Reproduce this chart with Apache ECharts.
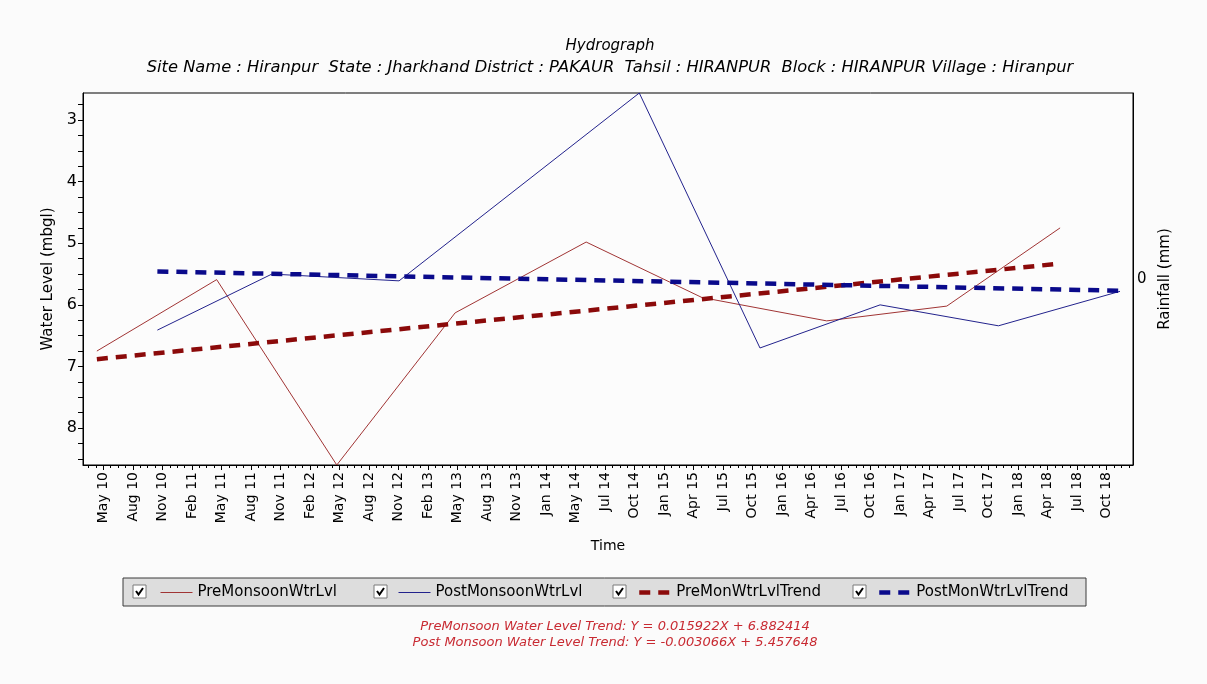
<!DOCTYPE html>
<html>
<head>
<meta charset="utf-8">
<script src="https://cdn.jsdelivr.net/npm/echarts@6/dist/echarts.min.js"></script>
<style>
  html, body { margin: 0; padding: 0; background: #fbfbfb; }
  #chart { width: 1207px; height: 684px; }
</style>
</head>
<body>
<div id="chart"></div>
<script>
// Labelled dates along the time axis (one axis unit per label)
const timeLabels = ['May 10', 'Aug 10', 'Nov 10', 'Feb 11', 'May 11', 'Aug 11', 'Nov 11', 'Feb 12',
  'May 12', 'Aug 12', 'Nov 12', 'Feb 13', 'May 13', 'Aug 13', 'Nov 13', 'Jan 14', 'May 14', 'Jul 14',
  'Oct 14', 'Jan 15', 'Apr 15', 'Jul 15', 'Oct 15', 'Jan 16', 'Apr 16', 'Jul 16', 'Oct 16', 'Jan 17',
  'Apr 17', 'Jul 17', 'Oct 17', 'Jan 18', 'Apr 18', 'Jul 18', 'Oct 18'];

// Pre-monsoon water levels (mbgl) and their positions on the time axis
const preTime = [-0.22, 3.84, 7.91, 11.92, 16.36, 20.28, 24.51, 28.58, 32.42];
const preLevel = [6.75, 5.59, 8.60, 6.13, 4.98, 5.88, 6.26, 6.02, 4.75];

// Post-monsoon water levels (mbgl)
const postTime = [1.83, 5.71, 10.02, 18.16, 22.25, 26.32, 30.33, 34.45];
const postLevel = [6.41, 5.50, 5.61, 2.56, 6.70, 6.00, 6.34, 5.78];

// Fitted trend lines (end points)
const preTrendTime = [-0.22, 32.42];
const preTrendLevel = [6.882, 5.33];
const postTrendTime = [1.83, 34.45];
const postTrendLevel = [5.458, 5.77];

const levelTicks = [3, 4, 5, 6, 7, 8];
const rainfallTicks = [0];

const seriesNames = ['PreMonsoonWtrLvl', 'PostMonsoonWtrLvl', 'PreMonWtrLvlTrend', 'PostMonWtrLvlTrend'];
const trendText = [
  'PreMonsoon Water Level Trend: Y = 0.015922X + 6.882414',
  'Post Monsoon Water Level Trend: Y = -0.003066X + 5.457648'
];

const FONT = 'DejaVu Sans';
const X_MIN = -0.69, X_MAX = 34.89;

const pairs = (xs, ys) => xs.map((x, i) => [x, ys[i]]);
const majorX = timeLabels.map((_, i) => i);
const minorX = [];
for (let v = -0.5; v <= 34.75 + 1e-9; v += 0.25) minorX.push(+v.toFixed(2));
const minorY = [];
for (let v = 2.75; v <= 8.5 + 1e-9; v += 0.25) minorY.push(+v.toFixed(2));

// line styles shared by series and their legend entries
const lineStyles = [
  { color: '#a03434', width: 1, type: 'solid' },
  { color: '#22228c', width: 1, type: 'solid' },
  { color: '#8b0a0a', width: 4.5, type: [11, 8] },
  { color: '#0a0a8b', width: 4.5, type: [11, 8] }
];

// legend layout: icon left edges and checkbox boxes
const legendLeft = [160, 398, 637, 877];
const checkLeft = [133, 374, 613, 853];
const checkTop = 585;

const graphics = [{
  type: 'rect', z: 0,
  shape: { x: 123, y: 578, width: 963, height: 28 },
  style: { fill: '#dddddd', stroke: '#3a3a3a', lineWidth: 1 }
}];
checkLeft.forEach(x => {
  graphics.push({
    type: 'rect', z: 10,
    shape: { x: x, y: checkTop, width: 13, height: 13 },
    style: { fill: '#ffffff', stroke: '#7a7a7a', lineWidth: 1 }
  });
  graphics.push({
    type: 'polyline', z: 11,
    shape: { points: [[x + 3, checkTop + 6], [x + 5.5, checkTop + 9.5], [x + 10, checkTop + 3]] },
    style: { fill: null, stroke: '#000000', lineWidth: 2 }
  });
});

const chart = echarts.init(document.getElementById('chart'));
chart.setOption({
  animation: false,
  backgroundColor: '#fbfbfb',
  textStyle: { fontFamily: FONT },
  title: [{
    text: 'Hydrograph',
    subtext: 'Site Name : Hiranpur  State : Jharkhand District : PAKAUR  Tahsil : HIRANPUR  Block : HIRANPUR Village : Hiranpur',
    left: 610, top: 39, textAlign: 'center', padding: 0, itemGap: 6,
    textStyle: { fontFamily: FONT, fontSize: 15, fontStyle: 'italic', fontWeight: 'normal', color: '#000' },
    subtextStyle: { fontFamily: FONT, fontSize: 16.3, fontStyle: 'italic', color: '#000' }
  }, {
    text: trendText.join('\n'),
    left: 615, top: 619, textAlign: 'center', padding: 0,
    textStyle: { fontFamily: FONT, fontSize: 13, fontStyle: 'italic', fontWeight: 'normal', color: '#c82a32', lineHeight: 16 }
  }],
  legend: seriesNames.map((n, i) => ({
    data: [n], left: legendLeft[i], top: 585, padding: 0,
    itemWidth: 32, itemHeight: 14, selectedMode: false,
    itemStyle: { opacity: 0 },
    lineStyle: { color: lineStyles[i].color, width: lineStyles[i].width, type: lineStyles[i].type },
    textStyle: { fontFamily: FONT, fontSize: 15, color: '#000' }
  })),
  graphic: graphics,
  grid: {
    left: 83, right: 74, top: 93, bottom: 219,
    show: true, backgroundColor: '#fcfcfc', borderColor: '#000', borderWidth: 1
  },
  xAxis: [{
    type: 'value', min: X_MIN, max: X_MAX,
    name: 'Time', nameLocation: 'middle', nameGap: 74,
    nameTextStyle: { fontFamily: FONT, fontSize: 14, color: '#000' },
    axisLine: { show: true, onZero: false, lineStyle: { color: '#000' } },
    axisTick: { show: true, customValues: majorX, length: 5, lineStyle: { color: '#000' } },
    axisLabel: {
      customValues: majorX, rotate: 90, margin: 7,
      fontFamily: FONT, fontSize: 14, color: '#000',
      formatter: v => timeLabels[Math.round(v)]
    },
    splitLine: { show: false }
  }, {
    type: 'value', min: X_MIN, max: X_MAX, position: 'bottom',
    axisLine: { show: false, onZero: false },
    axisTick: { show: true, customValues: minorX, length: 3, lineStyle: { color: '#000' } },
    axisLabel: { show: false },
    splitLine: { show: false }
  }],
  yAxis: [{
    type: 'value', inverse: true, min: 2.56, max: 8.60,
    name: 'Water Level (mbgl)', nameLocation: 'middle', nameGap: 19, nameRotate: 90,
    nameTextStyle: { fontFamily: FONT, fontSize: 15, color: '#000' },
    axisLine: { show: true, onZero: false, lineStyle: { color: '#000' } },
    axisTick: { show: true, customValues: minorY, length: 5, lineStyle: { color: '#000' } },
    axisLabel: { customValues: levelTicks, margin: 6, fontFamily: FONT, fontSize: 16, color: '#000' },
    splitLine: { show: false }
  }, {
    type: 'value', min: -1, max: 1, position: 'right',
    name: 'Rainfall (mm)', nameLocation: 'middle', nameGap: 22, nameRotate: 90,
    nameTextStyle: { fontFamily: FONT, fontSize: 15, color: '#000' },
    axisLine: { show: true, onZero: false, lineStyle: { color: '#000' } },
    axisTick: { show: false },
    axisLabel: { customValues: rainfallTicks, margin: 4, fontFamily: FONT, fontSize: 15, color: '#000' },
    splitLine: { show: false }
  }],
  series: seriesNames.map((n, i) => ({
    name: n, type: 'line',
    data: [pairs(preTime, preLevel), pairs(postTime, postLevel),
           pairs(preTrendTime, preTrendLevel), pairs(postTrendTime, postTrendLevel)][i],
    symbol: 'none',
    lineStyle: lineStyles[i],
    itemStyle: { color: lineStyles[i].color }
  }))
});
</script>
</body>
</html>
